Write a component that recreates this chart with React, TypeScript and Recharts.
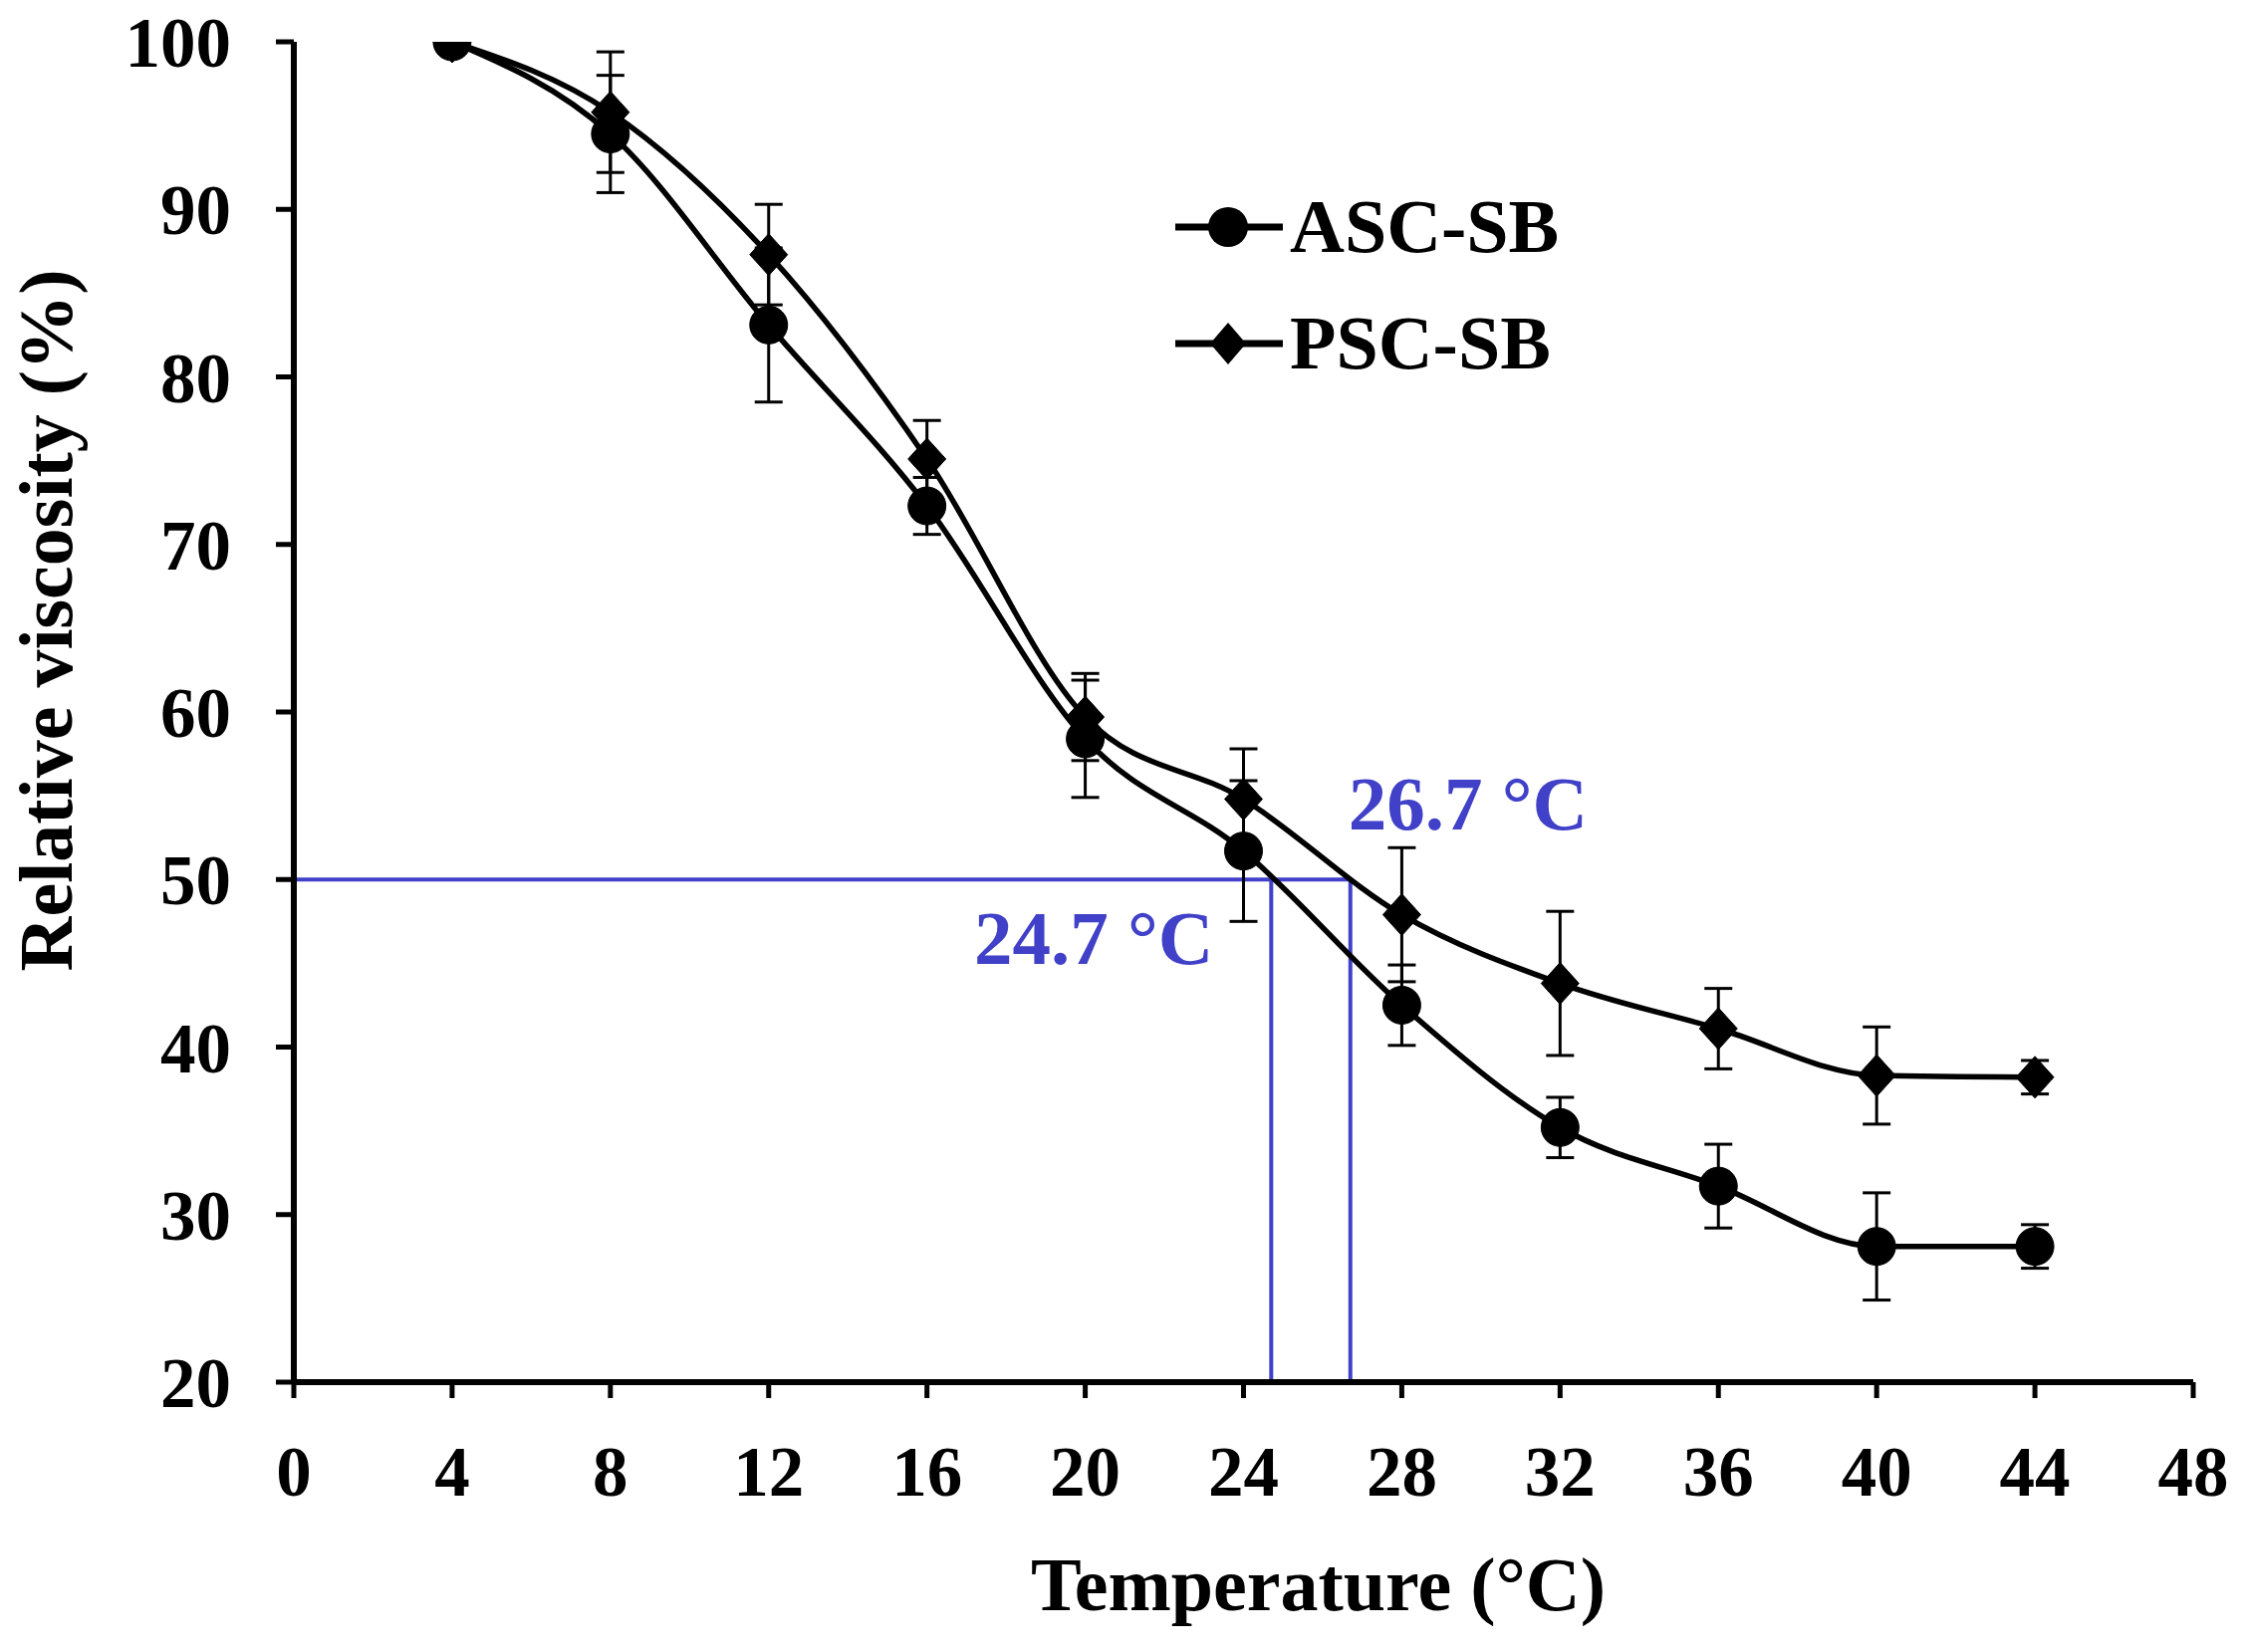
import React from 'react';
import {
  LineChart,
  Line,
  XAxis,
  YAxis,
  ErrorBar,
  ReferenceLine,
  Legend,
} from 'recharts';

// ---- data ----
const temperatures = [4, 8, 12, 16, 20, 24, 28, 32, 36, 40, 44];
const ascValues = [100, 94.5, 83.1, 72.3, 58.4, 51.7, 42.5, 35.2, 31.7, 28.1, 28.1];
const ascErrors = [0, 3.5, 4.6, 1.7, 3.5, 4.2, 2.4, 1.8, 2.5, 3.2, 1.3];
const pscValues = [100, 95.8, 87.3, 75.1, 59.7, 54.8, 47.9, 43.8, 41.1, 38.3, 38.2];
const pscErrors = [0, 3.6, 3.0, 2.3, 2.6, 3.0, 4.0, 4.3, 2.4, 2.9, 1.0];

const xTicks = [0, 4, 8, 12, 16, 20, 24, 28, 32, 36, 40, 44, 48];
const yTicks = [20, 30, 40, 50, 60, 70, 80, 90, 100];

const seriesNames = ['ASC-SB', 'PSC-SB'];
const midTemps = [24.7, 26.7];
const midLabels = ['24.7 °C', '26.7 °C'];
const halfLevel = 50;

const chartData = temperatures.map((t, i) => ({
  temp: t,
  asc: ascValues[i],
  ascErr: ascErrors[i],
  psc: pscValues[i],
  pscErr: pscErrors[i],
}));

// ---- styles ----
const FONT = "'Liberation Serif', 'Times New Roman', serif";
const BLUE = '#4040C8';
const W = 2255;
const H = 1659;

const tickStyle = {
  fill: '#000',
  fontSize: 71,
  fontFamily: FONT,
  fontWeight: 'bold',
};

const Diamond = (props: any) => {
  const { cx, cy, key } = props;
  if (cx == null || cy == null) return null;
  return (
    <polygon
      key={key}
      points={`${cx},${cy - 21} ${cx + 19},${cy} ${cx},${cy + 21} ${cx - 19},${cy}`}
      fill="#000"
      stroke="#000"
      strokeWidth={1}
    />
  );
};

const XTitle = (props: any) => {
  const vb = props.viewBox || { x: 295, y: 1388, width: 1907, height: 271 };
  return (
    <text
      x={vb.x + vb.width / 2 + 75}
      y={vb.y + 229}
      textAnchor="middle"
      fontFamily={FONT}
      fontWeight="bold"
      fontSize={76}
      fill="#000"
    >
      Temperature (°C)
    </text>
  );
};

const YTitle = (props: any) => {
  const vb = props.viewBox || { x: 0, y: 42, width: 295, height: 1346 };
  const cx = vb.x + 72;
  const cy = vb.y + vb.height / 2 - 92;
  return (
    <text
      x={cx}
      y={cy}
      transform={`rotate(-90, ${cx}, ${cy})`}
      textAnchor="middle"
      fontFamily={FONT}
      fontWeight="bold"
      fontSize={76}
      fill="#000"
    >
      Relative viscosity (%)
    </text>
  );
};

const makeBlueLabel = (text: string, side: 'left' | 'right') => (props: any) => {
  const vb = props.viewBox || { x: 0, y: 0 };
  const x = side === 'left' ? vb.x - 58 : vb.x - 2;
  const y = side === 'left' ? vb.y + 85 : vb.y - 50;
  return (
    <text
      x={x}
      y={y}
      textAnchor={side === 'left' ? 'end' : 'start'}
      fontFamily={FONT}
      fontWeight="bold"
      fontSize={77}
      fill={BLUE}
    >
      {text}
    </text>
  );
};

const renderLegend = () => {
  const rows = [38, 155];
  return (
    <svg width={460} height={200} style={{ display: 'block', overflow: 'visible' }}>
      {seriesNames.map((name, i) => {
        const cy = rows[i];
        return (
          <g key={name}>
            <line x1={0} y1={cy} x2={108} y2={cy} stroke="#000" strokeWidth={7} />
            {i === 0 ? (
              <circle cx={53} cy={cy} r={20} fill="#000" />
            ) : (
              <polygon
                points={`53,${cy - 21} 71,${cy} 53,${cy + 21} 35,${cy}`}
                fill="#000"
              />
            )}
            <text
              x={115}
              y={cy + 25}
              fontFamily={FONT}
              fontWeight="bold"
              fontSize={76}
              fill="#000"
            >
              {name}
            </text>
          </g>
        );
      })}
    </svg>
  );
};

export default function App() {
  return (
    <div
      style={{
        position: 'absolute',
        left: 0,
        top: 0,
        width: W,
        height: H,
        background: '#fff',
      }}
    >
      <LineChart
        width={W}
        height={H}
        data={chartData}
        margin={{ top: 42, right: 53, bottom: 0, left: 0 }}
      >
        <XAxis
          type="number"
          dataKey="temp"
          domain={[0, 48]}
          ticks={xTicks}
          interval={0}
          allowDataOverflow
          height={271}
          tickSize={16}
          tickMargin={48}
          axisLine={{ stroke: '#000', strokeWidth: 6 }}
          tickLine={{ stroke: '#000', strokeWidth: 5 }}
          tick={tickStyle}
          label={XTitle}
        />
        <YAxis
          type="number"
          domain={[20, 100]}
          ticks={yTicks}
          interval={0}
          allowDataOverflow
          width={295}
          tickSize={18}
          tickMargin={45}
          axisLine={{ stroke: '#000', strokeWidth: 6 }}
          tickLine={{ stroke: '#000', strokeWidth: 5 }}
          tick={tickStyle}
          label={YTitle}
        />
        <ReferenceLine
          segment={[
            { x: 0, y: halfLevel },
            { x: midTemps[1], y: halfLevel },
          ]}
          stroke={BLUE}
          strokeWidth={4}
          ifOverflow="visible"
        />
        <ReferenceLine
          segment={[
            { x: midTemps[0], y: halfLevel },
            { x: midTemps[0], y: 20 },
          ]}
          stroke={BLUE}
          strokeWidth={4}
          ifOverflow="visible"
          label={makeBlueLabel(midLabels[0], 'left')}
        />
        <ReferenceLine
          segment={[
            { x: midTemps[1], y: halfLevel },
            { x: midTemps[1], y: 20 },
          ]}
          stroke={BLUE}
          strokeWidth={4}
          ifOverflow="visible"
          label={makeBlueLabel(midLabels[1], 'right')}
        />
        <Line
          name={seriesNames[1]}
          dataKey="psc"
          type="monotone"
          stroke="#000"
          strokeWidth={5.5}
          dot={Diamond}
          activeDot={false}
          isAnimationActive={false}
        >
          <ErrorBar dataKey="pscErr" direction="y" width={14} strokeWidth={3} stroke="#000" />
        </Line>
        <Line
          name={seriesNames[0]}
          dataKey="asc"
          type="monotone"
          stroke="#000"
          strokeWidth={5.5}
          dot={{ r: 19, fill: '#000', stroke: '#000', strokeWidth: 1 }}
          activeDot={false}
          isAnimationActive={false}
        >
          <ErrorBar dataKey="ascErr" direction="y" width={14} strokeWidth={3} stroke="#000" />
        </Line>
        <Legend
          layout="vertical"
          align="center"
          verticalAlign="middle"
          content={renderLegend}
          wrapperStyle={{ left: 1180, top: 190, width: 460, height: 200 }}
        />
      </LineChart>
    </div>
  );
}
